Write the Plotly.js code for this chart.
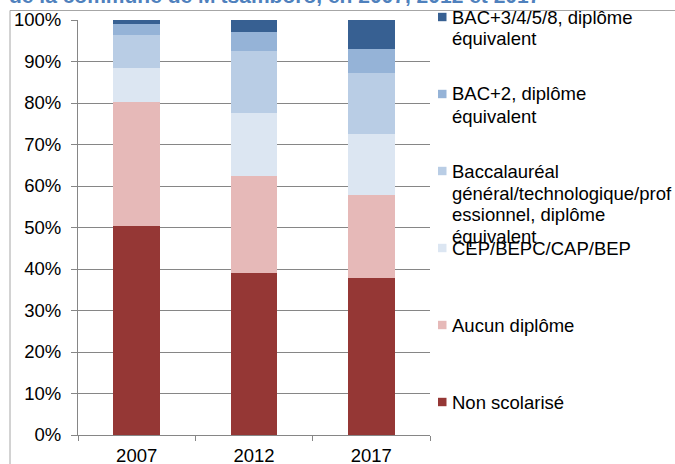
<!DOCTYPE html>
<html>
<head>
<meta charset="utf-8">
<script src="https://cdn.plot.ly/plotly-3.0.1.min.js"></script>
<style>html,body{margin:0;padding:0;background:#fff;}</style>
</head>
<body>
<div id="chart" style="width:675px;height:464px;"></div>
<script>
// Data (percent of population)
const years = ['2007', '2012', '2017'];
const seriesNames = [
  'Non scolarisé',
  'Aucun diplôme',
  'CEP/BEPC/CAP/BEP',
  'Baccalauréal général/technologique/professionnel, diplôme équivalent',
  'BAC+2, diplôme équivalent',
  'BAC+3/4/5/8, diplôme équivalent'
];
// legend labels as wrapped in the picture (one entry per line)
const legendLines = [
  ['Non scolarisé'],
  ['Aucun diplôme'],
  ['CEP/BEPC/CAP/BEP'],
  ['Baccalauréal', 'général/technologique/prof', 'essionnel, diplôme', 'équivalent'],
  ['BAC+2, diplôme', 'équivalent'],
  ['BAC+3/4/5/8, diplôme', 'équivalent']
];
const nonScolarise = [50.4, 39.1, 37.9];
const aucunDiplome = [29.9, 23.4, 20.0];
const cep = [8.1, 15.1, 14.6];
const bacc = [8.1, 15.0, 14.8];
const bac2 = [2.5, 4.4, 5.6];
const bac3 = [1.0, 3.0, 7.1];
const yTickVals = [0, 10, 20, 30, 40, 50, 60, 70, 80, 90, 100];
const titleText = "de la commune de M'tsamboro, en 2007, 2012 et 2017";

const seriesValues = [nonScolarise, aucunDiplome, cep, bacc, bac2, bac3];
const colors = ['#953735', '#E6B9B8', '#DCE6F2', '#B9CDE5', '#95B3D7', '#376092'];
const FONT = 'Liberation Sans, Arial, sans-serif';
const FS = 18.5;

const traces = seriesValues.map((vals, i) => ({
  type: 'bar',
  x: years,
  y: vals,
  name: seriesNames[i],
  marker: {color: colors[i], line: {width: 0}},
  showlegend: false,
  hoverinfo: 'x+y+name'
}));

// plot area geometry in pixels
const W = 675, H = 464;
const L = 78, R = 430, T = 20, B = 435;
const pw = R - L, ph = B - T;
const px = x => (x - L) / pw;
const py = y => (B - y) / ph;

const shapes = [
  // outer frame (top and left)
  {type: 'line', xref: 'paper', yref: 'paper', x0: px(10), x1: px(W + 5), y0: py(10.5), y1: py(10.5), line: {color: '#A6A6A6', width: 1}},
  {type: 'line', xref: 'paper', yref: 'paper', x0: px(10), x1: px(10), y0: py(10.5), y1: py(H + 5), line: {color: '#A6A6A6', width: 1}}
];
const annotations = [
  {xref: 'paper', yref: 'paper', x: px(7), y: py(9), xanchor: 'left', yanchor: 'bottom',
   text: '<b>' + titleText + '</b>', showarrow: false,
   font: {family: FONT, size: 21, color: '#4F81BD'}}
];

// custom legend, top to bottom: reverse of stacking order
const order = [5, 4, 3, 2, 1, 0];
order.forEach((si, k) => {
  const yc = 17 + 77 * k;
  shapes.push({type: 'rect', xref: 'paper', yref: 'paper',
    x0: px(438), x1: px(446.5), y0: py(yc + 4.2), y1: py(yc - 4.2),
    fillcolor: colors[si], line: {width: 0}});
  legendLines[si].forEach((line, j) => {
    annotations.push({xref: 'paper', yref: 'paper', x: px(450), y: py(yc + 22 * j),
      xanchor: 'left', yanchor: 'middle', align: 'left', showarrow: false,
      text: line,
      font: {family: FONT, size: FS, color: '#000'}});
  });
});

const layout = {
  width: W, height: H,
  margin: {l: L, r: W - R, t: T, b: H - B, pad: 0},
  paper_bgcolor: '#fff', plot_bgcolor: '#fff',
  barmode: 'stack',
  bargap: 0.6,
  font: {family: FONT, size: FS, color: '#000'},
  xaxis: {
    type: 'category',
    showline: true, linecolor: '#868686', linewidth: 1,
    ticks: 'outside', tickson: 'boundaries', ticklen: 5, tickcolor: '#868686',
    showgrid: false, zeroline: false,
    tickfont: {size: FS, color: '#000'},
    ticklabelstandoff: 4,
    fixedrange: true
  },
  yaxis: {
    range: [0, 100],
    tickvals: yTickVals,
    ticktext: yTickVals.map(v => v + '%'),
    showline: true, linecolor: '#868686', linewidth: 1,
    ticks: 'outside', ticklen: 6, tickcolor: '#868686',
    showgrid: true, gridcolor: '#868686', gridwidth: 1,
    zeroline: false,
    tickfont: {size: FS, color: '#000'},
    ticklabelstandoff: 6,
    fixedrange: true
  },
  shapes: shapes,
  annotations: annotations,
  showlegend: false
};

Plotly.newPlot('chart', traces, layout, {displayModeBar: false, staticPlot: true});
</script>
</body>
</html>
